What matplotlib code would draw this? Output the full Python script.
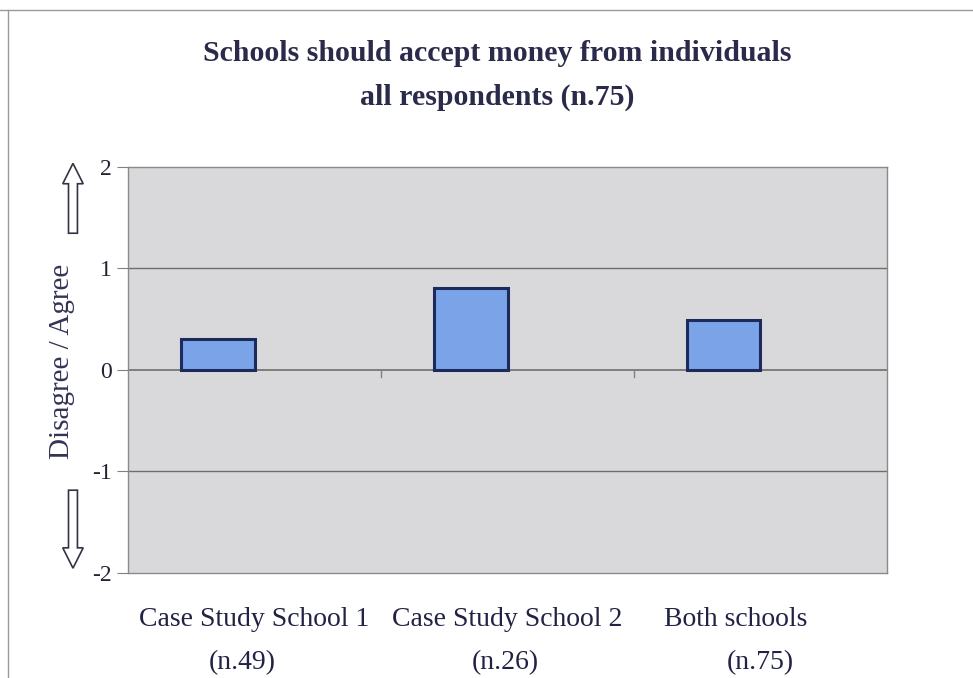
import matplotlib.pyplot as plt
from matplotlib.patches import FancyArrow
from matplotlib.lines import Line2D

# Chart data
categories = ['Case Study School 1', 'Case Study School 2', 'Both schools']
sample_sizes = ['(n.49)', '(n.26)', '(n.75)']
scores = [0.31, 0.81, 0.49]
title_lines = ['Schools should accept money from individuals', 'all respondents (n.75)']

plt.rcParams['font.family'] = ['Liberation Serif', 'DejaVu Serif']

fig = plt.figure(figsize=(9.73, 6.78), dpi=100)
fig.patch.set_facecolor('white')

# thin frame lines (top and left) round the chart
fig.lines.append(Line2D([0.0, 1.0], [0.985, 0.985], transform=fig.transFigure,
                        color='#9a9a9a', lw=1))
fig.lines.append(Line2D([0.008, 0.008], [0.0, 0.985], transform=fig.transFigure,
                        color='#9a9a9a', lw=1))

ax = fig.add_axes([0.1316, 0.1549, 0.780, 0.5988])
ax.set_facecolor('#d9d9dc')

x = list(range(len(categories)))
bar_w = 0.29
ax.bar([i - bar_w / 2 for i in x], scores, width=bar_w, color='#7ba3e8',
       edgecolor='#1d2b5c', linewidth=2.2, zorder=3)

ax.set_xlim(-0.5, len(categories) - 0.5)
ax.set_ylim(-2, 2)
ax.set_yticks([-2, -1, 0, 1, 2])
ax.set_yticklabels(['-2', '-1', '0', '1', '2'], fontsize=17, color='#222233')
ax.tick_params(axis='y', length=8, color='#808080', pad=4)
ax.set_xticks([])
for y in [-1, 1]:
    ax.axhline(y, color='#6e6e6e', lw=1, zorder=1)
ax.axhline(0, color='#6e6e6e', lw=1.2, zorder=2)
# small category separators on the zero line
for b in [0.5, 1.5]:
    ax.plot([b, b], [0, -0.07], color='#808080', lw=1, zorder=2)
for s in ax.spines.values():
    s.set_color('#8a8a8a')
    s.set_linewidth(1)

ax.set_ylabel('Disagree / Agree', fontsize=21, color='#333355')
ax.yaxis.set_label_coords(-0.07, 0.52)

# category labels underneath
name_dx = [0.0, 0.0, -0.1]
n_dx = [-0.05, -0.01, 0.0]
for i, (name, n) in enumerate(zip(categories, sample_sizes)):
    ax.text(i + name_dx[i], -2.46, name, ha='center', va='center', fontsize=20,
            color='#222244', clip_on=False)
    ax.text(i + n_dx[i], -2.88, n, ha='center', va='center', fontsize=20,
            color='#222244', clip_on=False)

# title
fig.text(0.511, 0.921, title_lines[0], ha='center', va='center', fontsize=21.5,
         fontweight='bold', color='#2a2a4a')
fig.text(0.511, 0.857, title_lines[1], ha='center', va='center', fontsize=21.5,
         fontweight='bold', color='#2a2a4a')

# hollow agree / disagree arrows
fig.patches.append(FancyArrow(0.075, 0.656, 0, 0.103, width=0.0092, head_width=0.021,
                              head_length=0.030, length_includes_head=True,
                              transform=fig.transFigure,
                              fc='white', ec='#333344', lw=1.2))
fig.patches.append(FancyArrow(0.075, 0.277, 0, -0.115, width=0.0092, head_width=0.021,
                              head_length=0.030, length_includes_head=True,
                              transform=fig.transFigure,
                              fc='white', ec='#333344', lw=1.2))

fig.savefig('out.png', dpi=100)
